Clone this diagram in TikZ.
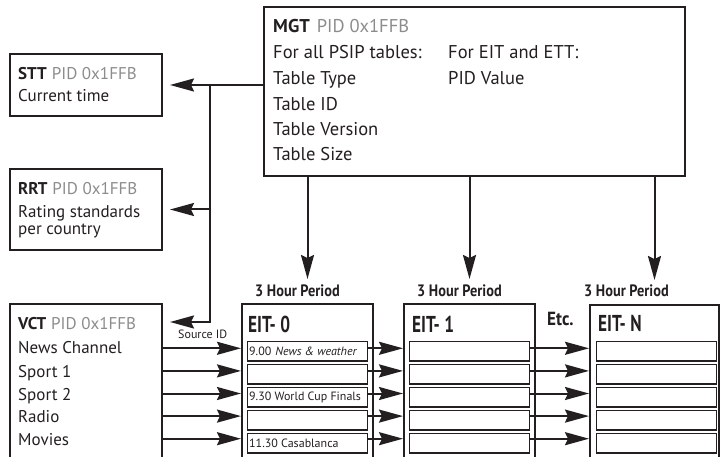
\documentclass[tikz,border=0pt]{standalone}
\usepackage{fontspec}
\setmainfont{PT Sans}
\newfontfamily\condhdr{PT Sans}[FakeStretch=0.87]
\newfontfamily\condttl{PT Sans}[FakeStretch=0.75]
\newfontfamily\condetc{PT Sans}[FakeStretch=0.9]
\usetikzlibrary{arrows.meta}
\definecolor{ink}{HTML}{231F20}
\definecolor{pidgray}{HTML}{8C8C8C}
\tikzset{bigtip/.tip={Stealth[length=24bp,width=13bp,inset=3bp]}}
\begin{document}
\begin{tikzpicture}[x=1bp,y=-1bp,
  box/.style={draw=ink, line width=2bp, inner sep=0pt, anchor=north west},
  rowbox/.style={draw=ink, line width=1.3bp, inner sep=0pt, anchor=north west, minimum width=120bp, minimum height=19.5bp},
  txt/.style={anchor=base west, inner sep=0pt, text=ink, font=\fontsize{17bp}{20bp}\selectfont},
  bigtxt/.style={anchor=base west, inner sep=0pt, text=ink, font=\fontsize{18.5bp}{22bp}\selectfont},
  small/.style={anchor=base west, inner sep=0pt, text=ink, font=\fontsize{12bp}{14bp}\selectfont},
  hdr/.style={anchor=base west, inner sep=0pt, text=ink, font=\condhdr\bfseries\fontsize{16.5bp}{19bp}\selectfont},
  ttl/.style={anchor=base west, inner sep=0pt, text=ink, font=\condttl\bfseries\fontsize{23bp}{26bp}\selectfont},
  conn/.style={draw=ink, line width=2bp},
  arr/.style={conn, -bigtip}
]
\useasboundingbox (0,0) rectangle (720,457);
\clip (0,0) rectangle (720,457);
\newcommand{\tbl}[1]{{\bfseries #1}}
\newcommand{\pid}{{\color{pidgray}PID 0x1FFB}}

% boxes
\node[box, minimum width=421bp, minimum height=169bp] (mgt) at (263,6) {};
\node[box, minimum width=152bp, minimum height=62bp] (stt) at (9,53) {};
\node[box, minimum width=152bp, minimum height=81bp] (rrt) at (9,168) {};
\node[box, minimum width=152bp, minimum height=170bp] (vct) at (9,303) {};
\node[box, minimum width=131bp, minimum height=170bp] (eit0) at (241,303) {};
\node[box, minimum width=131bp, minimum height=170bp] (eit1) at (403,303) {};
\node[box, minimum width=129bp, minimum height=170bp] (eitN) at (589,304) {};

% MGT text
\node[bigtxt] (mgt1) at (273,33) {\tbl{MGT}\hspace{7bp}\pid};
\node[bigtxt] (mgt2) at (273,59) {For all PSIP tables:};
\node[bigtxt] (mgt3) at (273,85) {Table Type};
\node[bigtxt] (mgt4) at (273,111) {Table ID};
\node[bigtxt] (mgt5) at (273,136) {Table Version};
\node[bigtxt] (mgt6) at (273,161) {Table Size};
\node[bigtxt] (mgt7) at (448,59) {For EIT and ETT:};
\node[bigtxt] (mgt8) at (448,85) {PID Value};

% STT text
\node[txt] (stt1) at (18,80) {\tbl{STT}\hspace{5bp}\pid};
\node[txt] (stt2) at (18,102) {Current time};

% RRT text
\node[txt] (rrt1) at (18,195) {\tbl{RRT}\hspace{5bp}\pid};
\node[txt] (rrt2) at (18,218) {Rating standards};
\node[txt] (rrt3) at (18,235) {per country};

% VCT text
\node[txt] (vct1) at (18,330) {\tbl{VCT}\hspace{5bp}\pid};
\node[txt] (vct2) at (18,354) {News Channel};
\node[txt] (vct3) at (18,377) {Sport 1};
\node[txt] (vct4) at (18,400) {Sport 2};
\node[txt] (vct5) at (18,422) {Radio};
\node[txt] (vct6) at (18,445) {Movies};
\node[small] (src) at (178,339) {Source ID};

% period labels and titles
\node[hdr] (p0) at (255,297) {3 Hour Period};
\node[hdr] (p1) at (417,297) {3 Hour Period};
\node[hdr] (pN) at (584,297) {3 Hour Period};
\node[ttl] (t0) at (248,333) {EIT- 0};
\node[ttl] (t1) at (412,333) {EIT- 1};
\node[ttl] (tN) at (598,332) {EIT- N};
\node[anchor=base west, inner sep=0pt, text=ink, font=\condetc\bfseries\fontsize{19bp}{22bp}\selectfont] (etc) at (547,326) {Etc.};

% rows
\foreach \i in {0,...,4}{
  \node[rowbox] (r0\i) at (247,{340.7+23*\i}) {};
  \node[rowbox] (r1\i) at (409,{340.7+23*\i}) {};
  \node[rowbox] (rN\i) at (596,{340.7+23*\i}) {};
  \coordinate (a\i) at (0,{348.3+22.6*\i});
}
\node[small, anchor=west] (e1) at ([xshift=2bp]r00.west) {9.00\hspace{4bp}\textit{News \& weather}};
\node[small, anchor=west] (e3) at ([xshift=2bp]r02.west) {9.30 World Cup Finals};
\node[small, anchor=west] (e5) at ([xshift=2bp]r04.west) {11.30 Casablanca};

% connectors
\coordinate (j1) at (210,84);
\coordinate (j3) at (210,322);
\draw[arr, shorten >=7bp] (mgt.west |- stt.east) -- (stt.east);
\draw[arr, shorten >=7bp] (j1) -- (j3) -- (vct.east |- j3);
\draw[arr, shorten >=7bp] (j1 |- rrt.east) -- (rrt.east);

\draw[arr, shorten >=24bp] (mgt.south -| eit0.north) -- (eit0.north);
\draw[arr, shorten >=24bp] (mgt.south -| eit1.north) -- (eit1.north);
\draw[arr, shorten >=24bp] (mgt.south -| eitN.north) -- (eitN.north);

\foreach \i in {0,...,4}{
  \draw[arr] (vct.east |- a\i) -- (eit0.west |- a\i);
  \draw[arr] (r0\i.east |- a\i) -- (eit1.west |- a\i);
  \draw[arr] (r1\i.east |- a\i) -- (eitN.west |- a\i);
}
\end{tikzpicture}
\end{document}
